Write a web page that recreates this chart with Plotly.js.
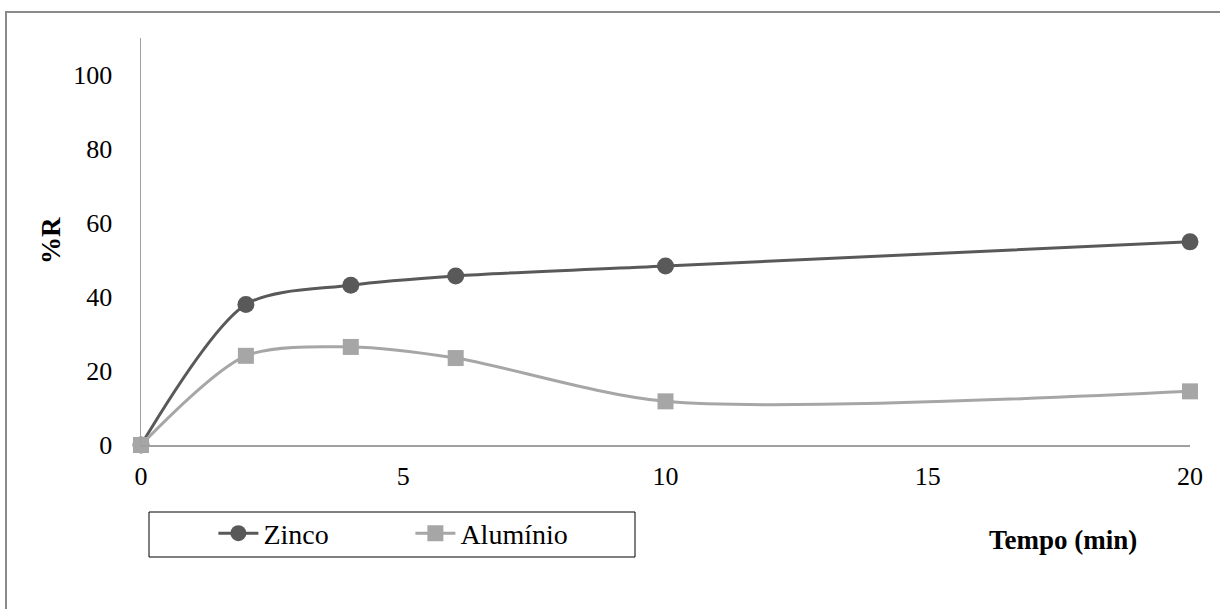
<!DOCTYPE html>
<html>
<head>
<meta charset="utf-8">
<script src="https://cdn.plot.ly/plotly-3.0.1.min.js"></script>
<style>
  html, body { margin: 0; padding: 0; background: #fff; overflow: hidden; }
  #chart { width: 1220px; height: 609px; }
  /* keep every label in the serif face */
  #chart text { font-family: 'Liberation Serif', 'Times New Roman', serif !important; }
</style>
</head>
<body>
<div id="chart"></div>
<script>
// Tempo de contato (min)
const tempo = [0, 2, 4, 6, 10, 20];
// Percentual de remoção (%R)
const zinco = [0, 38, 43.2, 45.7, 48.4, 54.9];
const aluminio = [0, 24.1, 26.5, 23.5, 11.8, 14.5];

const xTicks = [0, 5, 10, 15, 20];
const yTicks = [0, 20, 40, 60, 80, 100];

const serif = 'Liberation Serif, Times New Roman, serif';

const traces = [
  {
    x: tempo, y: zinco, name: 'Zinco',
    type: 'scatter', mode: 'lines+markers',
    line: { color: '#595959', width: 3, shape: 'spline', smoothing: 0.8 },
    marker: { symbol: 'circle', size: 17, color: '#595959' },
    cliponaxis: false
  },
  {
    x: tempo, y: aluminio, name: 'Alumínio',
    type: 'scatter', mode: 'lines+markers',
    line: { color: '#A6A6A6', width: 3, shape: 'spline', smoothing: 0.8 },
    marker: { symbol: 'square', size: 16, color: '#A6A6A6' },
    cliponaxis: false
  }
];

const layout = {
  width: 1220, height: 609,
  margin: { l: 141, r: 30, t: 38, b: 164 },
  paper_bgcolor: '#fff', plot_bgcolor: '#fff',
  font: { family: serif, size: 26, color: '#000' },
  showlegend: true,
  legend: {
    orientation: 'h',
    x: 0.069, y: -0.156, xanchor: 'left', yanchor: 'top',
    font: { family: serif, size: 28, color: '#000' },
    bgcolor: 'rgba(0,0,0,0)',
    entrywidth: 142, entrywidthmode: 'pixels',
    itemwidth: 40
  },
  xaxis: {
    range: [0, 20], tickvals: xTicks, ticktext: xTicks.map(String),
    showgrid: false, zeroline: false,
    showline: true, linecolor: '#A0A0A0', linewidth: 1.5,
    ticks: '', ticklen: 0,
    tickfont: { family: serif, size: 26, color: '#000' },
    ticklabelstandoff: 7
  },
  yaxis: {
    range: [0, 110], tickvals: yTicks, ticktext: yTicks.map(String),
    showgrid: false, zeroline: false,
    showline: true, linecolor: '#A0A0A0', linewidth: 1.5,
    ticks: '', ticklen: 0,
    tickfont: { family: serif, size: 26, color: '#000' },
    ticklabelstandoff: 22
  },
  shapes: [
    // outer chart frame (runs past the right and bottom edges)
    { type: 'rect', xref: 'paper', yref: 'paper',
      x0: (6 - 141) / 1049, x1: (1240 - 141) / 1049,
      y0: (445 - 640) / 407, y1: (445 - 12) / 407,
      line: { color: '#8A8A8A', width: 2 }, fillcolor: 'rgba(0,0,0,0)', layer: 'below' },
    // legend frame
    { type: 'rect', xref: 'paper', yref: 'paper',
      x0: (149 - 141) / 1049, x1: (635 - 141) / 1049,
      y0: (445 - 557) / 407, y1: (445 - 512) / 407,
      line: { color: '#000', width: 1 }, fillcolor: 'rgba(0,0,0,0)', layer: 'below' }
  ],
  annotations: [
    { text: '<b>Tempo (min)</b>', xref: 'paper', yref: 'paper',
      x: (1063 - 141) / 1049, y: (445 - 540) / 407, xanchor: 'center', yanchor: 'middle',
      showarrow: false, font: { family: serif, size: 27, color: '#000' } },
    { text: '<b>%R</b>', xref: 'paper', yref: 'paper', textangle: -90,
      x: (51 - 141) / 1049, y: (445 - 241) / 407, xanchor: 'center', yanchor: 'middle',
      showarrow: false, font: { family: serif, size: 27, color: '#000' } }
  ]
};

Plotly.newPlot('chart', traces, layout, { displayModeBar: false, staticPlot: true });
</script>
</body>
</html>
